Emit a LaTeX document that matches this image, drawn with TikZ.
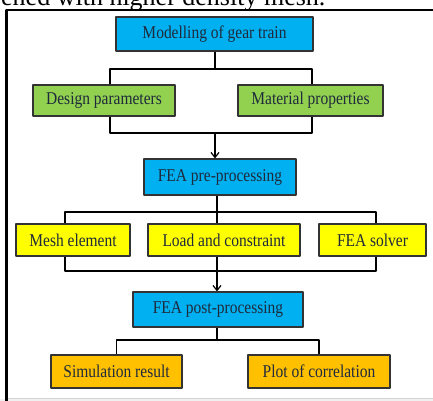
\documentclass[tikz,border=0pt]{standalone}
\usepackage{fontspec}
\setmainfont{Liberation Serif}
\newfontfamily\boxfont[FakeStretch=0.86]{Liberation Serif}
\usetikzlibrary{arrows.meta}
\definecolor{boxblue}{HTML}{00B0F0}
\definecolor{boxgreen}{HTML}{92D050}
\definecolor{boxyellow}{HTML}{FFFF00}
\definecolor{boxorange}{HTML}{FFC000}
\definecolor{boxline}{HTML}{333333}
\definecolor{boxtext}{HTML}{1F2A3C}
\definecolor{pagegrey}{HTML}{F0F0F0}
\definecolor{pageedge}{HTML}{D4D4D4}
\tikzset{
  flowbox/.style={draw=boxline, line width=1.2bp, inner sep=0pt, text=boxtext,
    font=\boxfont\fontsize{18bp}{21bp}\selectfont},
  bluebox/.style={flowbox, fill=boxblue},
  greenbox/.style={flowbox, fill=boxgreen},
  yellowbox/.style={flowbox, fill=boxyellow},
  orangebox/.style={flowbox, fill=boxorange},
}
\begin{document}
\begin{tikzpicture}[>={Straight Barb[length=5bp,width=8bp]},line join=bevel]
  \pgfsetlinewidth{1.2bp}
  \useasboundingbox (0bp,0bp) rectangle (433bp,401bp);
  \clip (0bp,0bp) rectangle (433bp,401bp);
%%
  % Page frame
  \fill[pagegrey] (0bp,0bp) rectangle (433bp,2bp);
  \draw[pageedge, line width=1bp] (8bp,2.5bp) -- (433bp,2.5bp);
  \draw[line width=2.5bp] (6.5bp,0bp) -- (6.5bp,391bp) -- (434bp,391bp);
  \node[anchor=base east, inner sep=0pt, font=\fontsize{26bp}{30bp}\selectfont] (caption) at (326bp,395.5bp) {ened with higher density mesh.};
  % Node: model
  \node[bluebox, minimum width=197bp, minimum height=34bp] (model) at (214.5bp,367bp) {Modelling of gear train};
  % Node: design
  \node[greenbox, minimum width=142bp, minimum height=31bp] (design) at (104bp,300.5bp) {Design parameters};
  % Node: material
  \node[greenbox, minimum width=145bp, minimum height=31bp] (material) at (310.5bp,300.5bp) {Material properties};
  % Node: pre
  \node[bluebox, minimum width=152bp, minimum height=36bp] (pre) at (220bp,224bp) {FEA pre-processing};
  % Node: mesh
  \node[yellowbox, minimum width=114bp, minimum height=32bp] (mesh) at (73bp,161bp) {Mesh element};
  % Node: load
  \node[yellowbox, minimum width=152bp, minimum height=32bp] (load) at (224bp,161bp) {Load and constraint};
  % Node: solver
  \node[yellowbox, minimum width=107bp, minimum height=32bp] (solver) at (372.5bp,161bp) {FEA solver};
  % Node: post
  \node[bluebox, minimum width=170bp, minimum height=35bp] (post) at (218bp,91.5bp) {FEA post-processing};
  % Node: sim
  \node[orangebox, minimum width=131bp, minimum height=33bp] (sim) at (116.5bp,29.5bp) {Simulation result};
  % Node: plot
  \node[orangebox, minimum width=142bp, minimum height=33bp] (plot) at (319bp,29.5bp) {Plot of correlation};
%%
  \coordinate (split1) at (215bp,332bp);
  \coordinate (merge1) at (215bp,268bp);
  \coordinate (split2) at (217bp,189bp);
  \coordinate (merge2) at (217bp,130bp);
  \coordinate (split3) at (217bp,61bp);
  % Edge: model -> design, material
  \draw (model.south -| split1) -- (split1);
  \draw ([xshift=6bp]design.north) |- (split1) -| ([xshift=1.5bp]material.north);
  % Edge: design, material -> pre
  \draw ([xshift=6bp]design.south) |- (merge1) -| ([xshift=1.5bp]material.south);
  \draw [->] (merge1) -- (merge1 |- pre.north);
  % Edge: pre -> mesh, load, solver
  \draw (pre.south -| split2) -- (split2);
  \draw ([xshift=-8bp]mesh.north) |- (split2) -| ([xshift=3.5bp]solver.north);
  \draw (split2) -- (split2 |- load.north);
  % Edge: mesh, load, solver -> post
  \draw ([xshift=-8bp]mesh.south) |- (merge2) -| ([xshift=3.5bp]solver.south);
  \draw (load.south -| merge2) -- (merge2);
  \draw [->] (merge2) -- (merge2 |- post.north);
  % Edge: post -> sim, plot
  \draw (post.south -| split3) -- (split3);
  \draw (sim.north) |- (split3) -| (plot.north);
%
\end{tikzpicture}
\end{document}
